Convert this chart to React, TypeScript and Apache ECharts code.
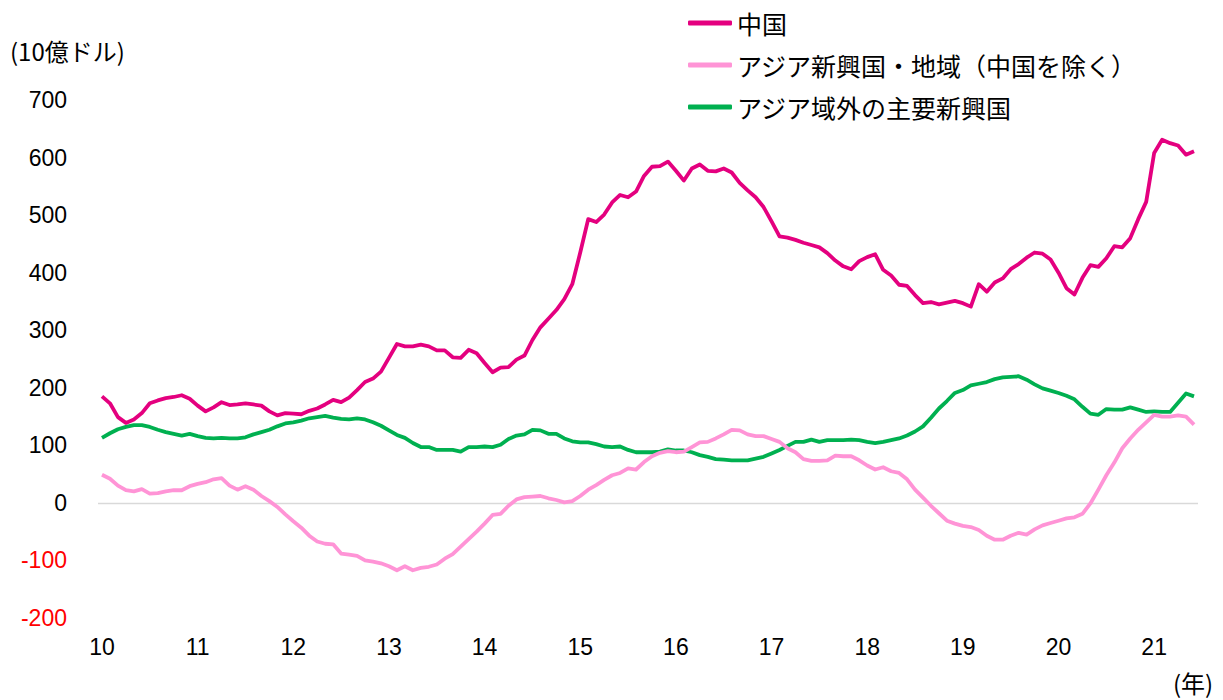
import React, { useEffect, useRef } from "react";
import * as echarts from "echarts";

// Monthly, Jan 2010 – Jun 2021 (10億ドル)
const yearLabels = ["10", "11", "12", "13", "14", "15", "16", "17", "18", "19", "20", "21"];

const china = [
  185, 173, 149, 139, 145, 156, 173, 178, 182, 184, 187, 181,
  169, 159, 166, 175, 170, 171, 173, 171, 169, 159, 152, 156,
  155, 154, 160, 164, 171, 179, 175, 183, 196, 210, 216, 228,
  252, 276, 272, 272, 275, 272, 265, 265, 253, 252, 266, 260,
  243, 227, 235, 236, 249, 256, 283, 305, 320, 335, 354, 380,
  435, 493, 488, 501, 522, 535, 531, 541, 568, 584, 585, 593,
  577, 560, 581, 588, 577, 576, 581, 574, 556, 543, 531, 514,
  489, 463, 461, 457, 452, 448, 444, 434, 421, 411, 406, 420,
  427, 432, 405, 395, 379, 377, 361, 347, 349, 345, 348, 351,
  347, 341, 380, 367, 383, 390, 406, 415, 426, 435, 433, 423,
  400, 373, 362, 391, 413, 410, 425, 446, 444, 460, 493, 523,
  608, 631, 625, 621, 605, 611,
];

const asiaNies = [
  49, 42, 30, 22, 20, 24, 16, 17, 20, 22, 22, 29,
  33, 36, 41, 43, 30, 23, 29, 23, 12, 3, -7, -20,
  -32, -43, -57, -67, -71, -72, -88, -90, -92, -100, -102, -105,
  -110, -117, -110, -117, -113, -111, -107, -97, -89, -76, -63, -50,
  -36, -21, -19, -5, 6, 10, 11, 12, 8, 5, 1, 3,
  12, 23, 31, 40, 48, 52, 60, 58, 71, 81, 87, 90,
  88, 89, 97, 105, 106, 112, 119, 127, 126, 119, 116, 116,
  111, 106, 95, 88, 76, 73, 73, 74, 82, 81, 81, 74,
  65, 58, 62, 55, 52, 41, 23, 9, -5, -18, -31, -36,
  -40, -42, -47, -57, -64, -64, -57, -52, -55, -46, -39, -35,
  -31, -27, -25, -19, -1, 23, 48, 70, 95, 112, 127, 140,
  153, 150, 150, 152, 150, 136,
];

const otherEm = [
  113, 121, 128, 132, 135, 135, 132, 127, 123, 120, 117, 120,
  116, 113, 112, 113, 112, 112, 114, 119, 123, 127, 133, 138,
  140, 143, 147, 149, 151, 148, 146, 145, 147, 145, 140, 134,
  126, 118, 113, 104, 97, 97, 92, 92, 92, 89, 97, 97,
  98, 97, 101, 111, 117, 119, 127, 126, 120, 120, 112, 107,
  105, 105, 102, 98, 97, 98, 92, 88, 88, 88, 89, 93,
  91, 91, 88, 83, 80, 76, 75, 74, 74, 74, 77, 80,
  86, 92, 99, 106, 106, 110, 106, 109, 109, 109, 110, 109,
  106, 104, 106, 109, 112, 117, 124, 133, 148, 164, 177, 191,
  196, 204, 207, 210, 215, 218, 219, 220, 214, 206, 199, 195,
  191, 186, 180, 167, 155, 153, 163, 162, 162, 166, 162, 158,
  159, 158, 158, 174, 190, 185,
];

const seriesNames = ["中国", "アジア新興国・地域（中国を除く）", "アジア域外の主要新興国"];
const seriesColors = ["#E4007F", "#FF94D6", "#00B050"];

const months: string[] = [];
for (let i = 0; i < china.length; i++) {
  const y = yearLabels[Math.floor(i / 12)];
  const m = (i % 12) + 1;
  months.push(`${y}/${m}`);
}

const latin = "'Liberation Sans', Arial, 'Noto Sans CJK JP', sans-serif";
const jp = "'Noto Sans CJK JP', 'Noto Sans', sans-serif";

export default function App() {
  const ref = useRef<HTMLDivElement>(null);

  useEffect(() => {
    document.body.style.margin = "0";
    if (!ref.current) return;
    const chart = echarts.init(ref.current, undefined, { renderer: "svg" });
    const data = [china, asiaNies, otherEm];
    chart.setOption({
      animation: false,
      backgroundColor: "#ffffff",
      grid: { left: 98, right: 25, top: 100, bottom: 82, containLabel: false },
      legend: {
        orient: "vertical",
        left: 683,
        top: 3,
        icon: "roundRect",
        itemWidth: 44,
        itemHeight: 5,
        itemGap: 12,
        data: seriesNames,
        textStyle: { fontFamily: jp, fontSize: 25, color: "#000", lineHeight: 30 },
      },
      xAxis: {
        type: "category",
        data: months,
        boundaryGap: true,
        axisLine: { show: false },
        axisTick: { show: false },
        splitLine: { show: false },
        axisLabel: {
          interval: 11,
          margin: 17,
          fontFamily: latin,
          fontSize: 23,
          color: "#000",
          formatter: (v: string) => v.split("/")[0],
        },
      },
      yAxis: {
        type: "value",
        min: -200,
        max: 700,
        interval: 100,
        axisLine: { show: false },
        axisTick: { show: false },
        splitLine: { show: false },
        axisLabel: {
          margin: 31,
          fontFamily: latin,
          fontSize: 23,
          color: (v: any) => (Number(v) < 0 ? "#FF0000" : "#000000"),
        },
      },
      graphic: [
        {
          type: "text",
          left: 10,
          top: 38,
          style: { text: "(10億ドル)", font: `24px ${jp}`, fill: "#000" },
        },
        {
          type: "text",
          left: 1173,
          top: 670,
          style: { text: "(年)", font: `24px ${jp}`, fill: "#000" },
        },
      ],
      series: seriesNames.map((name, k) => ({
        name,
        type: "line",
        data: data[k],
        symbol: "none",
        showSymbol: false,
        z: 3 - k,
        lineStyle: { color: seriesColors[k], width: 3.8, join: "round" },
        itemStyle: { color: seriesColors[k] },
        markLine:
          k === 0
            ? {
                silent: true,
                symbol: "none",
                label: { show: false },
                lineStyle: { color: "#D9D9D9", width: 1.3, type: "solid" },
                data: [{ yAxis: 0 }],
                z: 1,
              }
            : undefined,
      })),
    });
    return () => chart.dispose();
  }, []);

  return <div ref={ref} style={{ width: 1223, height: 700 }} />;
}
